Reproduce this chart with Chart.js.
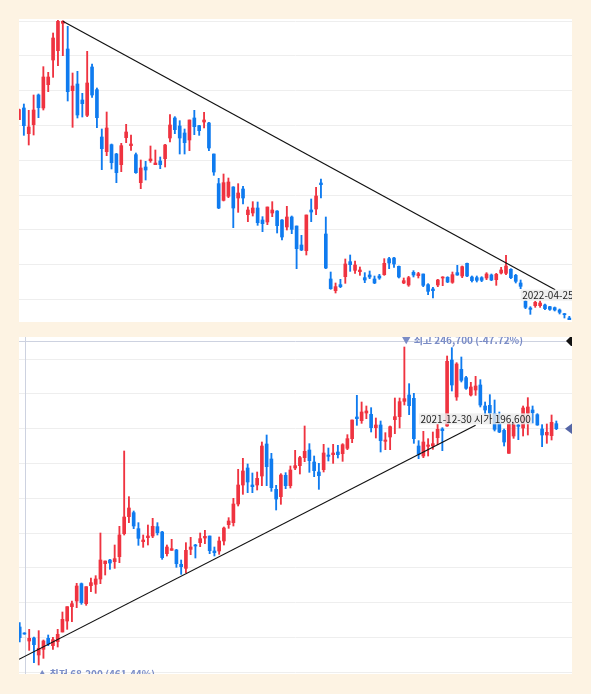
<!DOCTYPE html>
<html><head><meta charset="utf-8">
<script src="https://cdn.jsdelivr.net/npm/chart.js@4/dist/chart.umd.min.js"></script>
<style>
html,body{margin:0;padding:0;background:#fdf3e3;width:591px;height:694px;overflow:hidden}
.panel{position:absolute;left:19px;width:553px;background:#fff}
#topWrap{top:19px;height:303px}
#botWrap{top:337px;height:337px}
canvas{display:block}
</style></head><body>
<div class="panel" id="topWrap"><canvas id="topChart" width="553" height="303"></canvas></div>
<div class="panel" id="botWrap"><canvas id="botChart" width="553" height="337"></canvas></div>
<script>
// ---------- TOP PANEL (daily candles) ----------
const topOpen = [69500,73000,65300,68000,76900,73000,80000,87400,90200,98400,
90700,78200,80200,75400,70800,85300,78500,64300,59900,62000,
59200,56000,64100,61700,59000,50600,55300,57200,56000,57100,
57800,64000,70000,67600,65500,63400,70000,67700,68800,68500,
59200,50300,45300,46500,49300,46000,48700,41000,41500,43000,
39400,38800,41500,42100,39400,37300,40300,37600,31900,30200,
42400,42700,50500,35200,21700,18200,20000,22400,26900,24300,
23900,22100,22900,21700,22600,23000,27800,28000,25500,20500,
19900,23700,22700,23200,20000,18700,19900,22000,22200,20700,
23600,22600,26400,22300,22100,22100,22000,22900,21500,23500,
23400,24600,22800,20500,15000,13000,13700,13700,13900,13400,
13100,12400,11300,10000];
const topHigh = [72700,74200,72300,76900,77200,85400,83700,95500,99300,99200,
97500,83500,84000,77400,90000,86200,79000,66700,71800,62200,
59400,62400,68100,64900,59500,57400,57000,61600,60400,58300,
62100,71000,70400,69200,66700,69400,72300,67800,71700,68700,
59200,51900,53200,52000,49400,50300,49500,43300,44900,44800,
40400,43300,44900,42200,39500,43500,40600,37600,34800,40900,
45700,49200,51700,40300,23800,20500,21600,27700,28900,27100,
25300,23600,24100,22600,23100,27800,28200,28200,25600,22000,
22500,24200,23700,23200,20300,19200,21600,22400,22400,23800,
25800,25600,26500,22600,22600,22400,23600,23200,23400,25200,
28800,24800,23100,21400,15200,13400,15000,15100,14200,13500,
13300,12700,11400,10500];
const topLow = [69500,64800,61900,64900,70100,72400,77900,82200,85700,88700,
75100,67200,70000,70300,70400,76200,67100,54500,58700,54700,
50600,53900,62600,60300,53400,48800,51400,56700,56000,54800,
55300,62800,65300,59200,59200,60200,65000,64800,67000,60200,
52800,42800,45100,46100,37100,41700,44200,38900,40600,37800,
35900,38000,40400,35500,33400,36400,35300,24800,30200,28900,
38900,41000,46000,24800,18600,17500,19100,20400,24000,23400,
22800,20600,21800,20300,21600,22800,24800,25200,22000,20300,
19500,22300,22000,19400,17000,16000,19400,19700,20600,20400,
22800,22100,22400,20800,20800,20900,21500,21200,19800,23200,
23000,21800,20500,18800,12800,11100,13200,13200,12500,12300,
12100,11200,10000,9500];
const topClose = [72500,67700,67300,72400,73100,82300,82300,94000,99000,99000,
77900,79600,70900,74300,80500,76900,70100,60800,67000,56600,
53600,61700,65800,62200,53600,55000,54400,57700,56500,56000,
61900,67900,66500,64000,62600,69400,67400,66200,69400,61000,
53800,43000,50600,50800,43000,47500,46000,42400,43000,38600,
38300,43300,42400,37700,34300,40300,36600,30800,30400,40900,
41800,46600,50000,25000,18800,19400,19400,26200,26000,25900,
24400,21400,22300,20500,22000,26400,26500,26200,22300,21200,
22100,22900,23300,19800,18000,18200,21400,22200,20800,23000,
22900,25400,22600,21200,21300,21300,23200,21400,23100,24400,
25600,22100,21000,19500,13200,12600,14700,14500,12800,12600,
12400,11700,11000,9500];
const topGrid = [15600,26100,36600,46800,57300,67800,78300,88700,99000];
const topTrendX = [9, 110.1];
const topTrendY = [99000, 18500];
const topLabel = '2022-04-25';

// ---------- BOTTOM PANEL ----------
const botOpen = [79400,75800,71000,72800,62600,66000,72600,68200,70600,76400,
83000,91600,95000,105400,93400,104200,105000,108200,117400,119600,
118600,121600,135400,145600,148000,138400,130600,133000,134000,139600,
136400,123400,125400,125600,117000,114600,126000,128600,130000,132800,
134000,125000,125000,131000,140800,142000,153200,164600,174800,164600,
164600,170000,189200,180200,162000,157600,170400,164200,174800,176200,
181000,185600,178400,172400,173800,182600,182800,184400,183400,186600,
192400,205400,203200,207800,207000,199000,200600,190800,193400,203800,
205600,214800,218600,216600,188000,182000,187800,188000,193000,198200,
200000,239600,217400,234000,229000,218600,221600,224600,212000,212400,
207400,201600,197400,183600,194000,200600,198800,207600,209600,206800,
198200,194600,194200,201400];
const botHigh = [82000,76000,78000,73400,77200,71600,74600,73200,78000,88400,
91600,95000,105600,105800,103600,108800,110200,135800,119000,120000,
128600,139800,185000,157600,149000,142000,134600,140600,144600,142000,
136800,128600,132000,126000,119600,130000,133200,129000,135800,137400,
134000,127400,133400,139400,145000,156600,174000,180600,177200,171800,
172400,190400,194600,183600,164400,171400,172000,176000,185400,181800,
200000,189400,182000,177600,189000,186800,189000,188400,189400,194800,
203600,218400,214400,212000,211000,204800,203000,196000,200000,216800,
216800,247400,225400,219600,191200,196800,192400,196400,201000,199000,
242000,247000,238000,241400,229800,226200,229800,227800,214400,218800,
215600,208400,198200,202000,202400,201000,212000,217000,212000,207400,
200800,201200,206600,203000];
const botLow = [70400,75000,65400,58000,56600,60600,68200,66000,67400,76400,
78000,82600,91000,93000,92400,100600,99600,105400,110600,114000,
114600,118000,134600,142000,138400,128400,127200,128600,133000,134600,
120000,122000,125400,115200,111000,112000,122800,120800,127600,129400,
123400,122000,123000,128600,138600,140000,152000,159000,160000,160000,
161600,164200,164200,160800,149600,153000,162400,162800,173800,171200,
178600,172200,169600,162000,172400,179000,177600,180800,178800,185800,
190000,200400,201600,204400,196400,192800,184400,185800,185800,195400,
198800,212600,206800,189600,180400,181000,182000,186000,188800,185200,
199800,221000,215400,226400,222000,218000,218400,211400,206400,204000,
197000,196000,188000,183600,192600,191800,194000,194600,201800,200400,
187600,189600,191600,197800];
const botClose = [73000,75200,72600,68800,66600,71000,69200,71800,75000,84000,
91600,93400,104000,94000,103600,106000,108200,119600,119000,117800,
120400,134600,145400,150800,140000,132600,131600,134000,139800,136000,
121000,127400,126400,117400,115600,125400,127400,128000,132400,133800,
125200,124000,131000,138800,143000,153200,164600,173000,166400,163600,
168600,188000,175600,163000,156200,170600,164200,173600,176200,181000,
184800,179200,173200,170200,183800,181800,183800,182800,188800,192400,
203600,204400,208400,209000,199000,200600,191200,191600,199600,205600,
214600,216400,212200,192400,183000,190400,188600,189400,198000,197200,
238800,224600,237200,227400,222600,223400,224000,212600,209600,207800,
198000,196400,190400,201400,200600,199800,210800,211400,208000,200600,
194600,196200,202200,198400];
const botGrid = [52400,73200,94200,115200,135600,156600,177600,198400,219400,240000];
const botTrendX = [-0.147, 96.0];
const botTrendY = [60000, 200400];
const botPeakLine = 251000;
const botLabel = '2021-12-30 시가 196,600';
const peakText = '▼ 최고 246,700 (-47.72%)';
const lowText = '▲ 최저 68,200 (461.44%)';

// ---------- styling ----------
const RED = '#ef3340', BLUE = '#0f7bef';
const FONT = '10px "Noto Sans CJK KR", "Noto Sans", sans-serif';

function buildDatasets(open, high, low, close, tx, ty) {
  const colors = open.map((o, i) => close[i] >= o ? RED : BLUE);
  return [
    { type: 'line', data: tx.map((x, i) => ({ x: x, y: ty[i] })), borderColor: '#111111',
      borderWidth: 1.2, pointRadius: 0, fill: false, tension: 0, order: 0 },
    { type: 'bar', data: open.map((o, i) => ({ x: i, y: [Math.min(o, close[i]), Math.max(o, close[i])] })),
      backgroundColor: colors, barThickness: 3, grouped: false, minBarLength: 1, order: 1 },
    { type: 'bar', data: low.map((l, i) => ({ x: i, y: [l, high[i]] })),
      backgroundColor: colors, barThickness: 1.2, grouped: false, order: 2 }
  ];
}

function buildOptions(xmin, xmax, ymin, ymax, grid) {
  return {
    responsive: false, animation: false, devicePixelRatio: 1, events: [],
    layout: { padding: 0 },
    plugins: { legend: { display: false }, tooltip: { enabled: false } },
    scales: {
      x: { type: 'linear', min: xmin, max: xmax, display: false, offset: false },
      y: { type: 'linear', min: ymin, max: ymax, position: 'left',
        ticks: { display: false }, border: { display: false },
        grid: { color: '#eeeeee', lineWidth: 1, drawTicks: false },
        afterBuildTicks: s => { s.ticks = grid.map(v => ({ value: v })); },
        afterFit: s => { s.width = 0; } }
    }
  };
}

function labelBox(ctx, text, left, top, h) {
  const w = ctx.measureText(text).width;
  ctx.fillStyle = 'rgba(236,236,236,0.82)';
  ctx.fillRect(left - 1.5, top, w + 3, h);
  ctx.fillStyle = '#1e1e1e';
  ctx.textBaseline = 'middle';
  ctx.fillText(text, left, top + h / 2 + 0.5);
}

const topPlugin = {
  id: 'topAnno',
  afterDatasetsDraw(chart) {
    const { ctx, scales: { x, y } } = chart;
    const ex = x.getPixelForValue(topTrendX[1]);
    const ey = y.getPixelForValue(topTrendY[1]);
    ctx.save();
    ctx.font = FONT;
    labelBox(ctx, topLabel, ex - 33, ey, 11);
    ctx.restore();
  }
};

const botPlugin = {
  id: 'botAnno',
  beforeDatasetsDraw(chart) {
    const { ctx, chartArea: a, scales: { x, y } } = chart;
    ctx.save();
    ctx.strokeStyle = '#cdd2e0';
    ctx.lineWidth = 1;
    const py = Math.round(y.getPixelForValue(botPeakLine)) + 0.5;
    ctx.beginPath(); ctx.moveTo(a.left, py); ctx.lineTo(a.right, py); ctx.stroke();
    const vx = Math.round(x.getPixelForValue(1) + 1) + 0.5;
    ctx.beginPath(); ctx.moveTo(vx, a.top); ctx.lineTo(vx, a.bottom); ctx.stroke();
    ctx.restore();
  },
  afterDatasetsDraw(chart) {
    const { ctx, chartArea: a, scales: { x, y } } = chart;
    ctx.save();
    ctx.font = FONT;
    const ex = x.getPixelForValue(botTrendX[1]);
    const ey = y.getPixelForValue(botTrendY[1]);
    const w = ctx.measureText(botLabel).width;
    labelBox(ctx, botLabel, ex - w / 2, ey - 12, 11);
    let hi = 0, lo = 0;
    botHigh.forEach((v, i) => { if (v > botHigh[hi]) hi = i; });
    botLow.forEach((v, i) => { if (v < botLow[lo]) lo = i; });
    ctx.font = 'bold ' + FONT;
    ctx.fillStyle = '#7a8cc6';
    ctx.textBaseline = 'middle';
    const py = y.getPixelForValue(botPeakLine);
    ctx.fillText(peakText, x.getPixelForValue(hi) - 3, py - 0.5);
    ctx.fillText(lowText, x.getPixelForValue(lo) - 1.5, a.bottom);
    ctx.fillStyle = '#111';
    ctx.beginPath();
    ctx.moveTo(a.right - 6, py); ctx.lineTo(a.right - 1, py - 5); ctx.lineTo(a.right + 2, py - 5);
    ctx.lineTo(a.right + 2, py + 5); ctx.lineTo(a.right - 1, py + 5);
    ctx.closePath(); ctx.fill();
    const cy = y.getPixelForValue(botClose[botClose.length - 1]);
    ctx.fillStyle = '#5566a6';
    ctx.beginPath();
    ctx.moveTo(a.right - 7, cy); ctx.lineTo(a.right + 1, cy - 6); ctx.lineTo(a.right + 1, cy + 6);
    ctx.closePath(); ctx.fill();
    ctx.restore();
  }
};

new Chart(document.getElementById('topChart'), {
  type: 'bar',
  data: { datasets: buildDatasets(topOpen, topHigh, topLow, topClose, topTrendX, topTrendY) },
  options: buildOptions(0, 113.55, 8800, 99700, topGrid),
  plugins: [topPlugin]
});

new Chart(document.getElementById('botChart'), {
  type: 'bar',
  data: { datasets: buildDatasets(botOpen, botHigh, botLow, botClose, botTrendX, botTrendY) },
  options: buildOptions(-0.147, 116.30, 51200, 253400, botGrid),
  plugins: [botPlugin]
});
</script>
</body></html>
